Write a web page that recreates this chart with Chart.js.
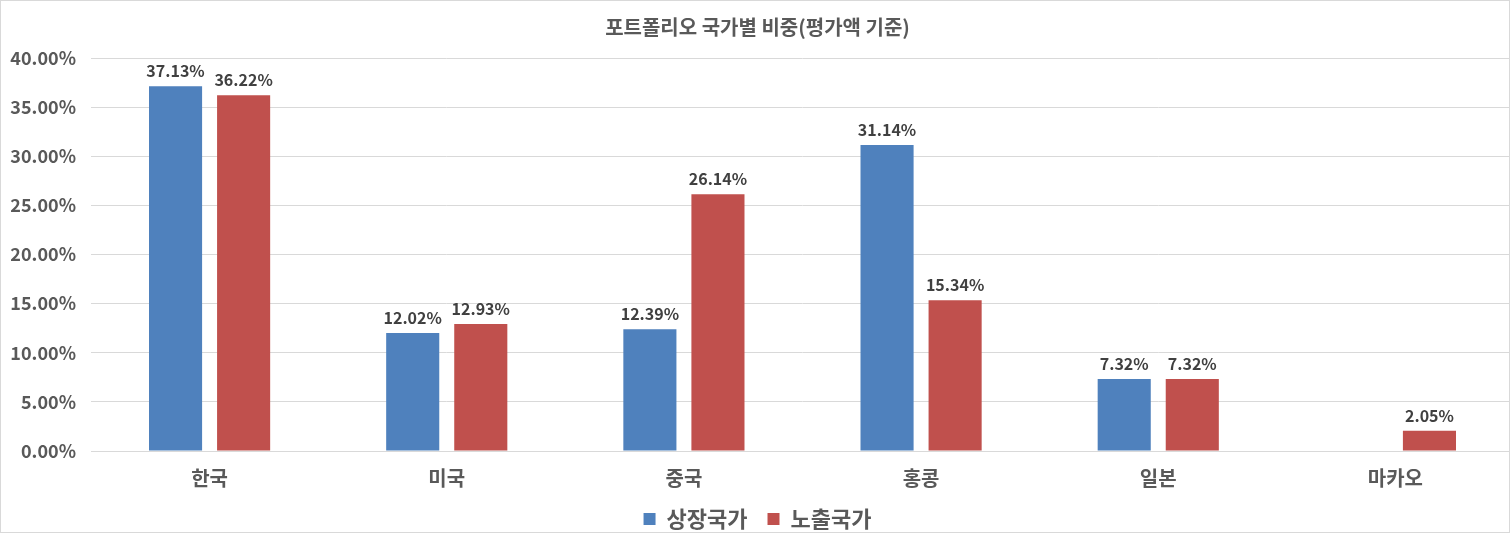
<!DOCTYPE html>
<html>
<head>
<meta charset="utf-8">
<script src="https://cdn.jsdelivr.net/npm/chart.js@4"></script>
<style>
  html, body { margin: 0; padding: 0; background: #fff; }
  #wrap { width: 1510px; height: 533px; box-sizing: border-box; border: 1px solid #d9d9d9; overflow: hidden; }
  canvas { display: block; }
</style>
</head>
<body>
<div id="wrap"><canvas id="portfolioChart" width="1513" height="539"></canvas></div>
<script>
const countries = ["한국", "미국", "중국", "홍콩", "일본", "마카오"];
const listed = [37.13, 12.02, 12.39, 31.14, 7.32, null];
const exposed = [36.22, 12.93, 26.14, 15.34, 7.32, 2.05];
const seriesNames = ["상장국가", "노출국가"];

const FONT = "'Noto Sans CJK KR', 'Noto Sans', sans-serif";

// 막대 위에 값 표시
const valueLabels = {
    id: "valueLabels",
    afterDatasetsDraw(chart) {
        let ctx = chart.ctx;
        ctx.save();
        ctx.font = "bold 16px " + FONT;
        ctx.fillStyle = "#404040";
        ctx.textAlign = "center";
        ctx.textBaseline = "bottom";
        chart.data.datasets.forEach((ds, i) => {
            chart.getDatasetMeta(i).data.forEach((bar, j) => {
                if (ds.data[j] == null) return;
                ctx.fillText(ds.data[j].toFixed(2) + "%", bar.x, bar.y - 7);
            });
        });
        ctx.restore();
    }
};

let ctx = document.getElementById("portfolioChart").getContext("2d");
new Chart(ctx, {
    type: "bar",
    data: {
        labels: countries,
        datasets: [
            { label: seriesNames[0], data: listed, backgroundColor: "#4F81BD" },
            { label: seriesNames[1], data: exposed, backgroundColor: "#C0504D" }
        ]
    },
    options: {
        responsive: false,
        animation: false,
        datasets: { bar: { categoryPercentage: 0.574, barPercentage: 0.78 } },
        layout: { padding: 0 },
        plugins: {
            title: {
                display: true,
                text: "포트폴리오 국가별 비중(평가액 기준)",
                color: "#595959",
                font: { family: FONT, size: 20, weight: "bold" },
                padding: { top: 14, bottom: 19 }
            },
            legend: {
                position: "bottom",
                labels: {
                    color: "#595959",
                    font: { family: FONT, size: 22, weight: "bold" },
                    boxWidth: 12,
                    boxHeight: 12,
                    padding: 20
                }
            },
            tooltip: { enabled: false }
        },
        scales: {
            x: {
                grid: { display: false },
                border: { color: "#d9d9d9" },
                afterFit(scale) { scale.height = 37; },
                ticks: {
                    color: "#595959",
                    font: { family: FONT, size: 20, weight: "bold" },
                    padding: 7
                }
            },
            y: {
                min: 0,
                max: 40,
                grid: { color: "#d9d9d9", drawTicks: false },
                border: { display: false },
                afterFit(scale) { scale.width = 90; },
                ticks: {
                    stepSize: 5,
                    color: "#595959",
                    padding: 15,
                    font: { family: FONT, size: 18, weight: "bold" },
                    callback: v => v.toFixed(2) + "%"
                }
            }
        }
    },
    plugins: [valueLabels]
});
</script>
</body>
</html>
